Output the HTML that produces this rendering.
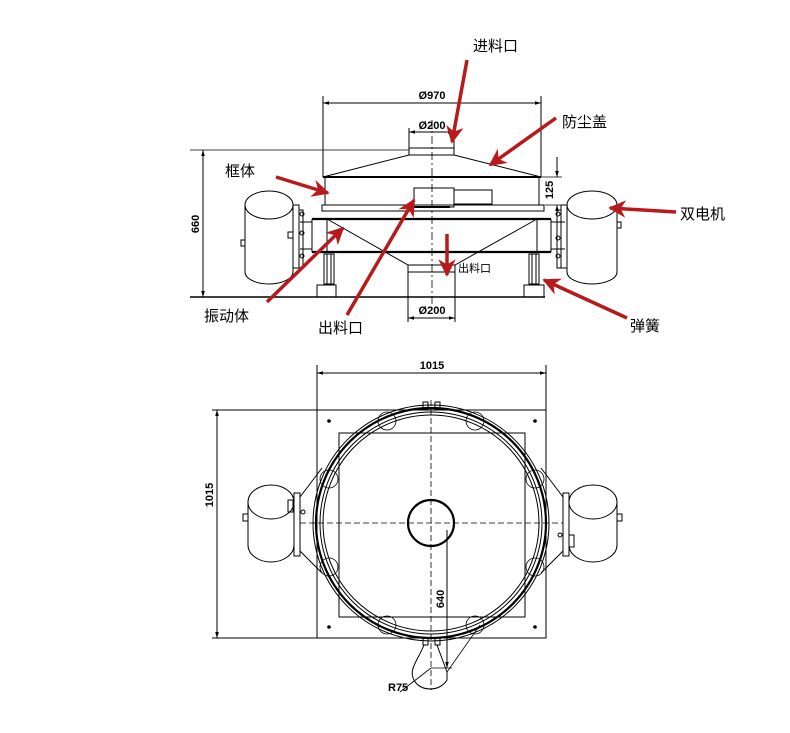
<!DOCTYPE html>
<html><head><meta charset="utf-8"><style>
html,body{margin:0;padding:0;background:#fff;}
svg{display:block;}
text{font-family:"Liberation Sans","Noto Sans CJK SC",sans-serif;}
.d{font-family:"Liberation Sans",sans-serif;font-size:11px;font-weight:bold;}
</style></head><body>
<svg width="790" height="733" viewBox="0 0 790 733" xmlns="http://www.w3.org/2000/svg">
<defs>
<marker id="ar" viewBox="0 0 10 10" refX="10" refY="5" markerWidth="6" markerHeight="6" orient="auto-start-reverse"><path d="M0,2 L10,5 L0,8 z" fill="#000"/></marker>
<marker id="rr" viewBox="0 0 10 10" refX="9" refY="5" markerWidth="5" markerHeight="5" orient="auto"><path d="M0,0 L10,5 L0,10 L3,5 z" fill="#b81a1c"/></marker>
</defs>
<g stroke="#000" fill="none" stroke-width="1">
<!-- TOP VIEW -->
<line x1="323" y1="96" x2="323" y2="177"/><line x1="541" y1="96" x2="541" y2="177"/>
<line x1="323" y1="103" x2="541" y2="103" marker-start="url(#ar)" marker-end="url(#ar)"/>
<line x1="409" y1="128" x2="409" y2="148"/><line x1="454" y1="128" x2="454" y2="148"/>
<line x1="409" y1="132" x2="454" y2="132" marker-start="url(#ar)" marker-end="url(#ar)"/>
<line x1="432" y1="120" x2="432" y2="310" stroke-dasharray="8,3,2,3" stroke-width="0.8"/>
<rect x="409" y="148" width="45" height="7"/>
<line x1="190" y1="150" x2="409" y2="150" stroke-width="0.8"/>
<polyline points="323,177 409,155 454,155 541,177"/>
<line x1="323" y1="177" x2="541" y2="177" stroke-width="2"/>
<line x1="541" y1="177" x2="562" y2="177" stroke-width="0.8"/>
<line x1="325" y1="177" x2="325" y2="205"/><line x1="539" y1="177" x2="539" y2="205"/>
<rect x="322" y="205" width="222" height="6"/>
<rect x="414" y="188" width="40" height="19"/><rect x="454" y="190" width="38" height="14"/>
<line x1="410" y1="207" x2="450" y2="207" stroke-width="2"/>
<line x1="312" y1="219" x2="551" y2="219" stroke-width="2.2"/>
<line x1="312" y1="252" x2="551" y2="252" stroke-width="2.2"/>
<line x1="312" y1="219" x2="312" y2="252"/><line x1="551" y1="219" x2="551" y2="252"/>
<line x1="327" y1="219" x2="327" y2="252"/><line x1="537" y1="219" x2="537" y2="252"/>
<line x1="300" y1="222" x2="312" y2="222"/><line x1="300" y1="249" x2="312" y2="249"/>
<line x1="551" y1="222" x2="565" y2="222"/><line x1="551" y1="249" x2="565" y2="249"/>
<polyline points="327,219 408,265 455,265 537,219"/>
<rect x="408" y="265" width="47" height="7"/>
<line x1="408" y1="272" x2="408" y2="322"/><line x1="455" y1="272" x2="455" y2="322"/>
<line x1="408" y1="318" x2="455" y2="318" marker-start="url(#ar)" marker-end="url(#ar)"/>
<rect x="324" y="254" width="10" height="30"/><rect x="529" y="254" width="10" height="30"/>
<line x1="327" y1="254" x2="327" y2="284"/><line x1="331" y1="254" x2="331" y2="284"/>
<line x1="532" y1="254" x2="532" y2="284"/><line x1="536" y1="254" x2="536" y2="284"/>
<rect x="317" y="285" width="19" height="12"/><rect x="524" y="285" width="20" height="12"/>
<line x1="190" y1="297" x2="545" y2="297" stroke-width="1.4"/>
<line x1="203" y1="150" x2="203" y2="297" marker-start="url(#ar)" marker-end="url(#ar)"/>
<line x1="557" y1="157" x2="557" y2="177" marker-end="url(#ar)"/>
<line x1="557" y1="205" x2="557" y2="222" marker-start="url(#ar)"/>
<line x1="545" y1="205" x2="565" y2="205" stroke-width="0.8"/>
<!-- left motor -->
<path d="M245,205 L245,272 A24,12 0 0 0 293,272 L293,205"/>
<ellipse cx="269" cy="205" rx="24" ry="14"/>
<rect x="241" y="240" width="4" height="6"/>
<rect x="293" y="205" width="6" height="63"/>
<rect x="299" y="210" width="4" height="58"/>
<rect x="288" y="232" width="5" height="6"/>
<circle cx="302" cy="214" r="2"/><circle cx="302" cy="233" r="2"/><circle cx="302" cy="256" r="2"/>
<!-- right motor -->
<path d="M567,205 L567,272 A25,12 0 0 0 617,272 L617,205"/>
<ellipse cx="592" cy="205" rx="25" ry="14"/>
<rect x="617" y="222" width="4" height="6"/>
<rect x="561" y="205" width="6" height="63"/>
<rect x="557" y="210" width="4" height="58"/>
<circle cx="558" cy="214" r="2"/><circle cx="558" cy="238" r="2"/><circle cx="558" cy="256" r="2"/>

<!-- BOTTOM VIEW -->
<line x1="317" y1="365" x2="317" y2="410"/><line x1="546" y1="365" x2="546" y2="410"/>
<line x1="317" y1="373" x2="546" y2="373" marker-start="url(#ar)" marker-end="url(#ar)"/>
<line x1="212" y1="410" x2="317" y2="410"/><line x1="212" y1="638" x2="317" y2="638"/>
<line x1="217" y1="410" x2="217" y2="638" marker-start="url(#ar)" marker-end="url(#ar)"/>
<rect x="317" y="410" width="229" height="228"/>
<rect x="339" y="433" width="186" height="184"/>
<g fill="#000" stroke="none"><circle cx="329" cy="421" r="1.8"/><circle cx="535" cy="421" r="1.8"/><circle cx="329" cy="627" r="1.8"/><circle cx="535" cy="627" r="1.8"/></g>
<circle cx="431" cy="523" r="118"/>
<circle cx="431" cy="523" r="115" stroke-width="2.2"/>
<circle cx="431" cy="523" r="111"/>
<circle cx="431" cy="523" r="108"/>
<circle cx="431" cy="523" r="23" stroke-width="2.2"/>
<line x1="300" y1="523" x2="563" y2="523" stroke-dasharray="6,3" stroke-width="0.8"/>
<line x1="431" y1="400" x2="431" y2="690" stroke-dasharray="6,3" stroke-width="0.8"/>
<g stroke-width="0.8">
<circle cx="387" cy="421" r="9"/><circle cx="475" cy="421" r="9"/>
<circle cx="329" cy="479" r="9"/><circle cx="535" cy="479" r="9"/>
<circle cx="329" cy="567" r="9"/><circle cx="535" cy="567" r="9"/>
<circle cx="387" cy="625" r="9"/><circle cx="475" cy="625" r="9"/>
</g>
<rect x="423" y="402" width="5" height="7"/><rect x="435" y="402" width="5" height="7"/>
<rect x="423" y="638" width="5" height="7"/><rect x="435" y="638" width="5" height="7"/>
<!-- left motor bottom -->
<path d="M248,502 L248,545 A23,17 0 0 0 294,545 L294,502"/>
<ellipse cx="271" cy="502" rx="23" ry="17"/>
<rect x="243" y="514" width="5" height="7"/>
<rect x="294" y="493" width="6" height="63"/>
<rect x="288" y="500" width="5" height="12"/>
<circle cx="303" cy="512" r="2"/>
<line x1="300" y1="497" x2="322" y2="468"/><line x1="300" y1="551" x2="322" y2="573"/>
<!-- right motor bottom -->
<path d="M569,502 L569,545 A24,17 0 0 0 617,545 L617,502"/>
<ellipse cx="593" cy="502" rx="24" ry="17"/>
<rect x="617" y="514" width="5" height="7"/>
<rect x="563" y="493" width="6" height="63"/>
<rect x="569" y="535" width="5" height="12"/>
<circle cx="560" cy="535" r="2"/>
<line x1="563" y1="497" x2="541" y2="468"/><line x1="563" y1="551" x2="541" y2="573"/>
<!-- outlet -->
<path d="M424,645 C418,660 408,670 414,680 C420,692 440,692 447,680 L447,672"/>
<path d="M437,645 L447,672"/>
<line x1="447" y1="530" x2="447" y2="668" marker-end="url(#ar)"/>
<line x1="431" y1="668" x2="452" y2="668" stroke-width="0.8"/>
<line x1="400" y1="692" x2="431" y2="668" stroke-width="0.8"/>
<line x1="447" y1="672" x2="480" y2="625" stroke-width="0.8"/>
</g>
<!-- dimension text -->
<text class="d" x="432" y="99" text-anchor="middle">Ø970</text>
<text class="d" x="432" y="129" text-anchor="middle">Ø200</text>
<text class="d" x="432" y="314" text-anchor="middle">Ø200</text>
<text class="d" x="432" y="369" text-anchor="middle">1015</text>
<text class="d" transform="translate(199,224) rotate(-90)" text-anchor="middle">660</text>
<text class="d" transform="translate(553,190) rotate(-90)" text-anchor="middle">125</text>
<text class="d" transform="translate(213,495) rotate(-90)" text-anchor="middle">1015</text>
<text class="d" transform="translate(444,599) rotate(-90)" text-anchor="middle">640</text>
<text class="d" x="388" y="691">R75</text>
<!-- labels -->
<g font-size="15" fill="#000">
<text x="473" y="51">进料口</text>
<text x="562" y="127">防尘盖</text>
<text x="225" y="176">框体</text>
<text x="680" y="219">双电机</text>
<text x="204" y="321">振动体</text>
<text x="318" y="333">出料口</text>
<text x="630" y="331">弹簧</text>
</g>
<text x="458" y="272" font-size="11">出料口</text>
<!-- red arrows -->
<g stroke="#b81a1c" stroke-width="3.5" marker-end="url(#rr)" fill="none">
<line x1="467" y1="60" x2="452" y2="142"/>
<line x1="556" y1="118" x2="490" y2="165"/>
<line x1="276" y1="177" x2="328" y2="193"/>
<line x1="676" y1="212" x2="610" y2="208"/>
<line x1="267" y1="302" x2="343" y2="228"/>
<line x1="347" y1="315" x2="414" y2="200"/>
<line x1="447" y1="234" x2="447" y2="275"/>
<line x1="627" y1="318" x2="544" y2="280"/>
</g>
</svg>
</body></html>
